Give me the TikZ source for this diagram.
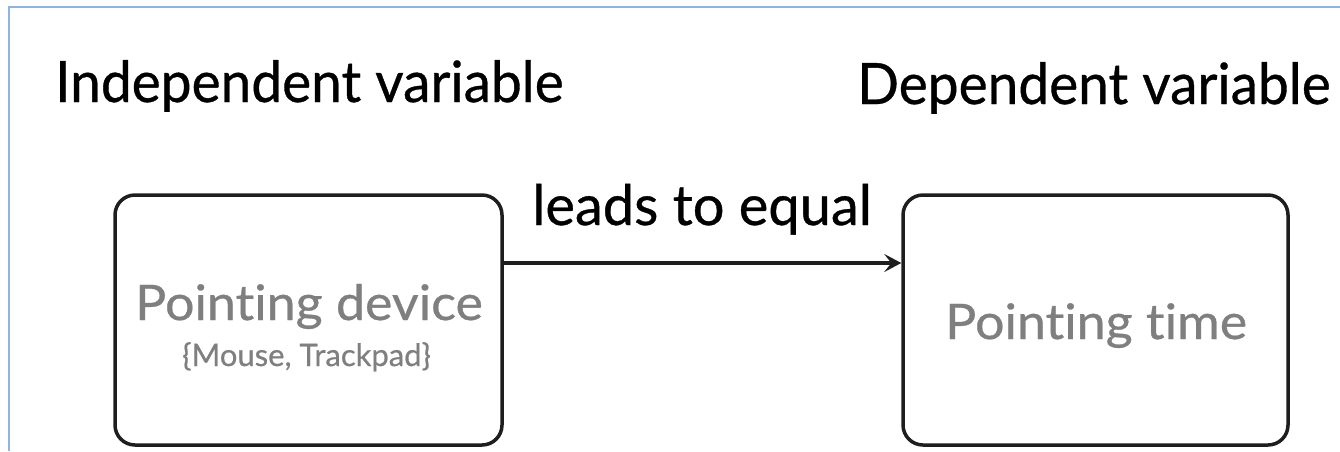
\documentclass[tikz,border=0pt]{standalone}
\usepackage{fontspec}
\setmainfont{Lato}[Ligatures=NoCommon, FakeBold=0.6]
\newfontfamily\headfont{Lato}[Ligatures=NoCommon, FakeBold=0.6, FakeStretch=0.965]
\newfontfamily\labelfont{Lato}[Ligatures=NoCommon, FakeBold=0.6, FakeStretch=1.06]
\usetikzlibrary{arrows.meta}
\definecolor{frameblue}{HTML}{8EB4E3}
\definecolor{boxline}{HTML}{1E1E1E}
\definecolor{textgray}{HTML}{7F7F7F}
\tikzset{
  heading/.style={anchor=base west, inner sep=0pt, font=\headfont\fontsize{57}{60}\selectfont, text=black},
  statebox/.style={draw=boxline, line width=3.5pt, rounded corners=20pt, fill=white},
  boxtext/.style={inner sep=0pt, text=textgray, anchor=base west},
  link/.style={draw=boxline, line width=3.2pt, -{Stealth[length=17pt,width=18pt,inset=7pt]}},
}
\begin{document}
\begin{tikzpicture}[x=1pt,y=-1pt]
\useasboundingbox (0,0) rectangle (1340,451);
% thin frame along top and left
\draw[frameblue, line width=2pt] (8.5,451) -- (8.5,6.5) -- (1340,6.5);

\node[heading] (indep) at (55,102) {Independent variable};
\node[heading] (dep) at (857,104) {Dependent variable};

\node[statebox, minimum width=387pt, minimum height=250pt] (device) at (308.5,320) {};
\node[statebox, minimum width=385pt, minimum height=250pt] (time) at (1095.5,320) {};

\node[boxtext, font=\labelfont\fontsize{49}{52}\selectfont] (devlabel) at (135,320) {Pointing device};
\node[boxtext, font=\fontsize{31}{33}\selectfont] (devset) at (182,366) {\{Mouse, Trackpad\}};
\node[boxtext, font=\labelfont\fontsize{49}{52}\selectfont] (timelabel) at (945,339) {Pointing time};

\coordinate (from) at (device.east |- 0,263);
\coordinate (to) at (time.west |- 0,263);
\draw[link] (from) -- (to);
\node[anchor=base west, inner sep=0pt, font=\fontsize{56}{58}\selectfont] (rel) at (532,225) {leads to equal};
\end{tikzpicture}
\end{document}
